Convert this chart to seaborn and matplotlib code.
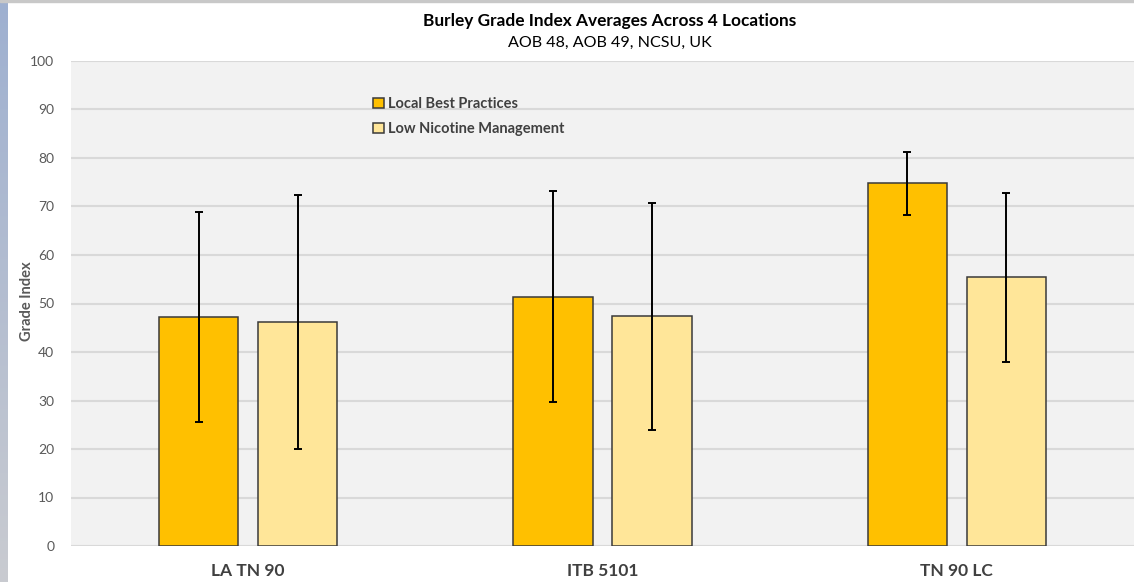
import numpy as np
import pandas as pd
import matplotlib
matplotlib.use("Agg")
import matplotlib.pyplot as plt
import seaborn as sns
from matplotlib.patches import Patch
from matplotlib.colors import LinearSegmentedColormap

# ---- data ----
varieties = ["LA TN 90", "ITB 5101", "TN 90 LC"]
practices = ["Local Best Practices", "Low Nicotine Management"]
lbp_values = [47.2, 51.4, 74.8]
lnm_values = [46.1, 47.4, 55.4]
lbp_errors = [21.7, 21.7, 6.5]
lnm_errors = [26.2, 23.4, 17.4]
y_ticks = [0, 10, 20, 30, 40, 50, 60, 70, 80, 90, 100]

colors = {"Local Best Practices": "#FFC000", "Low Nicotine Management": "#FFE699"}

df = pd.DataFrame({
    "Variety": varieties * 2,
    "Practice": [practices[0]] * 3 + [practices[1]] * 3,
    "Value": lbp_values + lnm_values,
})

sns.set_theme(style="white")
plt.rcParams["font.family"] = ["Lato", "DejaVu Sans"]

fig = plt.figure(figsize=(11.34, 5.82), dpi=100)
fig.patch.set_facecolor("white")

# left screenshot strip
sax = fig.add_axes([0, 0, 8 / 1134, 1])
grad = np.linspace(0, 1, 256).reshape(-1, 1)
cmap = LinearSegmentedColormap.from_list("s", ["#9eb0d0", "#c9cbd0"])
sax.imshow(grad, aspect="auto", cmap=cmap)
sax.set_axis_off()
# top strip
fig.patches.append(plt.Rectangle((0, 1 - 2 / 582), 1, 2 / 582, transform=fig.transFigure,
                                 color="#c8c8c8", zorder=0))

ax = fig.add_axes([71 / 1134, 1 - 546 / 582, 1 - 71 / 1134, (546 - 61) / 582])
ax.set_facecolor("#f2f2f2")

sns.barplot(data=df, x="Variety", y="Value", hue="Practice", order=varieties,
            hue_order=practices, palette=colors, saturation=1, width=0.56, gap=0.2,
            edgecolor="#3a3a3a", linewidth=1.1, errorbar=None, ax=ax, zorder=3,
            legend=False)

for cont, errs in zip(ax.containers, [lbp_errors, lnm_errors]):
    xs = [p.get_x() + p.get_width() / 2 for p in cont.patches]
    ys = [p.get_height() for p in cont.patches]
    ax.errorbar(xs, ys, yerr=errs, fmt="none", ecolor="black", elinewidth=1.4,
                capsize=3, capthick=1.4, zorder=4)

ax.set_ylim(0, 100)
ax.set_xlim(-0.5, 2.5)
ax.set_yticks(y_ticks)
ax.yaxis.grid(True, color="#d9d9d9", linewidth=1.5, zorder=0)
ax.set_axisbelow(True)
for s in ax.spines.values():
    s.set_visible(False)
ax.tick_params(axis="y", length=0, pad=12, labelsize=10, labelcolor="#595959")
ax.tick_params(axis="x", length=0, pad=12, labelsize=12.5, labelcolor="#404040")
for lbl in ax.get_xticklabels():
    lbl.set_fontweight("bold")
ax.set_xlabel("")
ax.set_ylabel("Grade Index", fontsize=10.5, fontweight="bold", color="#595959")
ax.yaxis.set_label_coords(-44 / 1063, 0.505)
ax.yaxis.label.set_va("center")

fig.text(610 / 1134, 1 - 21 / 582, "Burley Grade Index Averages Across 4 Locations",
         ha="center", va="center", fontsize=12.4, fontweight="bold", color="black")
fig.text(610 / 1134, 1 - 43 / 582, "AOB 48, AOB 49, NCSU, UK",
         ha="center", va="center", fontsize=11.6, color="black")

handles = [Patch(facecolor=colors[p], edgecolor="#3a3a3a", linewidth=1.1) for p in practices]
leg = fig.legend(handles, practices, loc="upper left", bbox_to_anchor=(360 / 1134, 1 - 84 / 582),
                 frameon=False, handlelength=0.75, handleheight=0.75, handletextpad=0.3,
                 labelspacing=0.75, prop={"weight": "bold", "size": 10.5})
for t in leg.get_texts():
    t.set_color("#404040")

fig.savefig("out.png", dpi=100, facecolor="white")
